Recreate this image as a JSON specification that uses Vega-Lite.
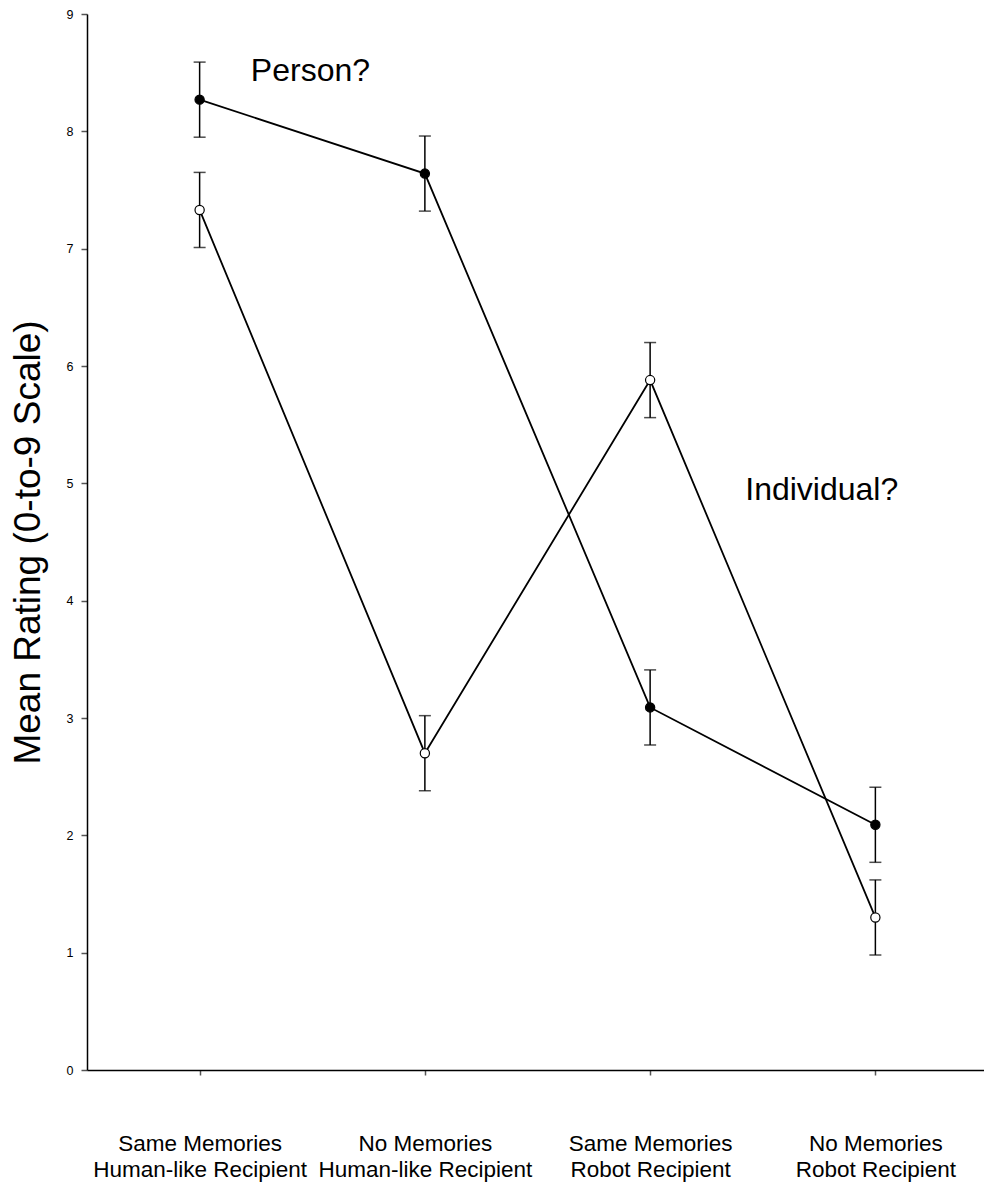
{
  "$schema": "https://vega.github.io/schema/vega-lite/v6.json",
  "autosize": "none",
  "width": 901,
  "height": 1056,
  "padding": {"left": 87, "top": 14, "right": 0, "bottom": 116},
  "background": "white",
  "config": {
    "view": {"stroke": null},
    "font": "Liberation Sans",
    "axis": {"grid": false, "domainColor": "black", "domainWidth": 1.5, "tickColor": "#555", "labelColor": "black", "titleColor": "black", "labelFont": "Liberation Sans", "titleFont": "Liberation Sans", "labelLimit": 0}
  },
  "datasets": {
    "pts": [
      {"cond": 0, "series": "Person?", "mean": 8.27, "lo": 7.95, "hi": 8.59},
      {"cond": 1, "series": "Person?", "mean": 7.64, "lo": 7.32, "hi": 7.96},
      {"cond": 2, "series": "Person?", "mean": 3.09, "lo": 2.77, "hi": 3.41},
      {"cond": 3, "series": "Person?", "mean": 2.09, "lo": 1.77, "hi": 2.41},
      {"cond": 0, "series": "Individual?", "mean": 7.33, "lo": 7.01, "hi": 7.65},
      {"cond": 1, "series": "Individual?", "mean": 2.70, "lo": 2.38, "hi": 3.02},
      {"cond": 2, "series": "Individual?", "mean": 5.88, "lo": 5.56, "hi": 6.20},
      {"cond": 3, "series": "Individual?", "mean": 1.30, "lo": 0.98, "hi": 1.62}
    ],
    "notes": [
      {"label": "Person?", "nx": 0.492, "ny": 8.425},
      {"label": "Individual?", "nx": 2.762, "ny": 4.856}
    ]
  },
  "data": {"name": "pts"},
  "layer": [
    {
      "mark": {"type": "line", "color": "black", "strokeWidth": 1.8},
      "encoding": {
        "x": {
          "field": "cond", "type": "quantitative",
          "scale": {"domain": [-0.5, 3.5], "nice": false, "zero": false},
          "axis": {
            "title": null, "values": [0, 1, 2, 3], "tickSize": 5, "tickWidth": 1.5,
            "labelFontSize": 22.5, "labelLineHeight": 26, "labelPadding": 57, "labelBaseline": "top", "labelAlign": "center",
            "labelExpr": "datum.value == 0 ? ['Same Memories', 'Human-like Recipient'] : datum.value == 1 ? ['No Memories', 'Human-like Recipient'] : datum.value == 2 ? ['Same Memories', 'Robot Recipient'] : ['No Memories', 'Robot Recipient']"
          }
        },
        "y": {
          "field": "mean", "type": "quantitative",
          "scale": {"domain": [0, 9], "nice": false},
          "axis": {
            "title": "Mean Rating (0-to-9 Scale)", "titleFontSize": 37, "titleFontWeight": "normal", "titlePadding": 19,
            "values": [0, 1, 2, 3, 4, 5, 6, 7, 8, 9], "format": "d", "tickSize": 6, "tickWidth": 1.5,
            "labelFontSize": 12.5, "labelPadding": 8
          }
        },
        "detail": {"field": "series"}
      }
    },
    {
      "mark": {"type": "rule", "color": "black", "strokeWidth": 1.5},
      "encoding": {
        "x": {"field": "cond", "type": "quantitative"},
        "y": {"field": "lo", "type": "quantitative"},
        "y2": {"field": "hi"}
      }
    },
    {
      "mark": {"type": "tick", "orient": "horizontal", "color": "black", "size": 12, "thickness": 1.5},
      "encoding": {
        "x": {"field": "cond", "type": "quantitative"},
        "y": {"field": "lo", "type": "quantitative"}
      }
    },
    {
      "mark": {"type": "tick", "orient": "horizontal", "color": "black", "size": 12, "thickness": 1.5},
      "encoding": {
        "x": {"field": "cond", "type": "quantitative"},
        "y": {"field": "hi", "type": "quantitative"}
      }
    },
    {
      "mark": {"type": "point", "filled": true, "size": 85, "stroke": "black", "strokeWidth": 1.2, "opacity": 1},
      "encoding": {
        "x": {"field": "cond", "type": "quantitative"},
        "y": {"field": "mean", "type": "quantitative"},
        "fill": {
          "field": "series", "type": "nominal",
          "scale": {"domain": ["Person?", "Individual?"], "range": ["black", "white"]},
          "legend": null
        }
      }
    },
    {
      "data": {"name": "notes"},
      "mark": {"type": "text", "fontSize": 32, "font": "Liberation Sans", "color": "black", "align": "center", "baseline": "alphabetic"},
      "encoding": {
        "x": {"field": "nx", "type": "quantitative"},
        "y": {"field": "ny", "type": "quantitative"},
        "text": {"field": "label"}
      }
    }
  ]
}
